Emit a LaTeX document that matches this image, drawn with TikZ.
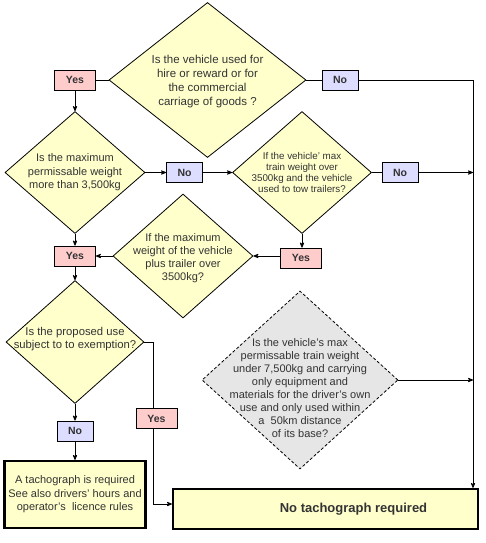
\documentclass[tikz,border=0pt]{standalone}
\usepackage{fontspec}
\setmainfont{Liberation Sans}
\usepackage{tikz}
\usetikzlibrary{arrows,shapes.geometric}

\definecolor{qyellow}{HTML}{FFFFCC}
\definecolor{yespink}{HTML}{FFCCCC}
\definecolor{noblue}{HTML}{DDDDFF}
\definecolor{qgrey}{HTML}{E6E6E6}
\definecolor{txtgrey}{HTML}{333333}

\begin{document}
\begin{tikzpicture}[x=1pt, y=-1pt, >=stealth', line width=0.8pt,
	question/.style={diamond, draw, fill=qyellow, inner sep=0pt, aspect=1},
	qtext/.style={align=center, text=txtgrey},
	yesbox/.style={draw, fill=yespink, inner sep=0pt, minimum width=41pt, minimum height=20pt, text=txtgrey, font=\bfseries\fontsize{10.5}{12}\selectfont},
	nobox/.style={yesbox, fill=noblue, minimum width=36pt},
	result/.style={draw, line width=2.2pt, fill=qyellow, inner sep=0pt, text=txtgrey}]
	\useasboundingbox (0,0) rectangle (486,543);

	% Nodes {q1, q2, ..., yes1, no1, etc}
	\node [question, minimum width=197pt, minimum height=155pt] (q1) at (207.5,80) {};
	\node [qtext, font=\fontsize{11.5}{13.8}\selectfont] (q1t) at (207.5,81.5) {Is the vehicle used for\\hire or reward or for\\the commercial\\carriage of goods ?};
	\node [yesbox] (yes1) at (75,80) {Yes};
	\node [nobox] (no1) at (340,80) {No};

	\node [question, minimum width=140pt, minimum height=122pt] (q2) at (75,172.5) {};
	\node [qtext, font=\fontsize{11}{13.5}\selectfont] (q2t) at (q2) {Is the maximum\\permissable weight\\more than 3,500kg};
	\node [nobox] (no2) at (184.5,172.5) {No};
	\node [question, minimum width=139pt, minimum height=122pt] (q3) at (302,172.5) {};
	\node [qtext, font=\fontsize{9.8}{11}\selectfont] (q3t) at (q3) {If the vehicle' max\\train weight over\\3500kg and the vehicle\\used to tow trailers?};
	\node [nobox] (no3) at (400,172.5) {No};

	\node [yesbox] (yes2) at (75,256) {Yes};
	\node [question, minimum width=140pt, minimum height=124pt] (q4) at (183,256) {};
	\node [qtext, font=\fontsize{11}{13}\selectfont] (q4t) at (183,258) {If the maximum\\weight of the vehicle\\plus trailer over\\3500kg?};
	\node [yesbox] (yes3) at (301,258) {Yes};

	\node [question, minimum width=138pt, minimum height=123pt] (q5) at (75,342) {};
	\node [qtext, font=\fontsize{11.3}{13}\selectfont] (q5t) at (75,339) {Is the proposed use\\subject to to exemption?};
	\node [question, fill=qgrey, dash pattern=on 3pt off 2pt, minimum width=196pt, minimum height=178pt] (q6) at (300,380) {};
	\node [qtext, font=\fontsize{11}{13}\selectfont] (q6t) at (300,388) {Is the vehicle's max\\permissable train weight\\under 7,500kg and carrying\\only equipment and\\materials for the driver's own\\use and only used within\\a~~50km distance\\of its base?};

	\node [yesbox] (yes4) at (156.5,418.5) {Yes};
	\node [nobox] (no4) at (75,431) {No};

	\node [result, align=center, minimum width=141pt, minimum height=67pt, font=\fontsize{11}{13.5}\selectfont] (tacho) at (75,494.5) {A tachograph is required\\See also drivers' hours and\\operator's~~licence rules};
	\node [result, minimum width=305pt, minimum height=40pt, font=\bfseries\fontsize{13}{15}\selectfont] (notacho) at (325.5,509) {\hspace*{56pt}No tachograph required};

	% Corners of the connectors
	\coordinate (rail) at (473,80);
	\coordinate (bend) at (153,342);
	\coordinate (foot) at (153,504);

	% Paths
	\path [draw] (q1.west) -- (yes1.east);
	\path [draw] (q1.east) -- (no1.west);
	\path [draw,->] (no1.east) -- (rail) -- (rail |- notacho.north);
	\path [->] (yes1) edge (q2);
	\path [->] (q2.east) edge (no2.west);
	\path [->] (no2.east) edge (q3.west);
	\path [draw] (q3.east) -- (no3.west);
	\path [->] (no3.east) edge (no3.east -| rail);
	\path [->] (q3.south) edge (q3.south |- yes3.north);
	\path [->] (yes3.west |- q4.east) edge (q4.east);
	\path [->] (q4.west) edge (yes2.east);
	\path [->] (q2) edge (yes2);
	\path [->] (yes2) edge (q5);
	\path [draw] (q5.east) -- (bend) -- (bend |- yes4.north);
	\path [draw,->] (bend |- yes4.south) -- (foot) -- (foot -| notacho.west);
	\path [->] (q5) edge (no4);
	\path [->] (no4) edge (tacho);
	\path [->] (q6.east) edge (q6.east -| rail);

\end{tikzpicture}
\end{document}
